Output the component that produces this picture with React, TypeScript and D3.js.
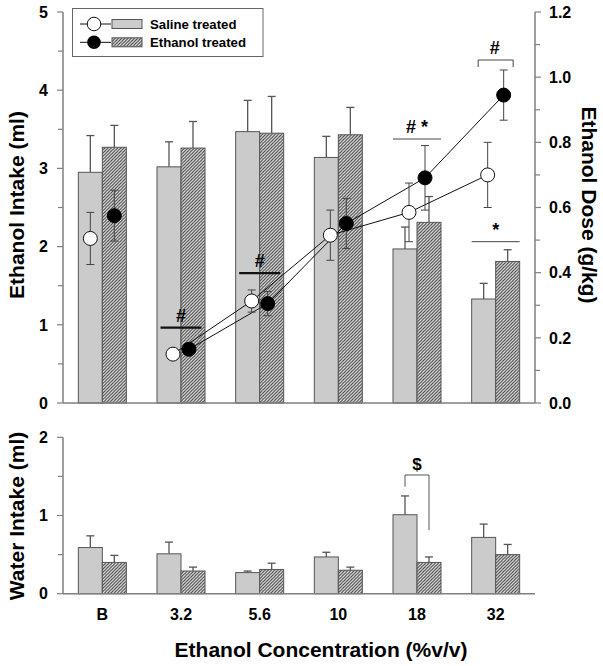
import React from "react";
import * as d3 from "d3";

const categories = ["B", "3.2", "5.6", "10", "18", "32"];

// Ethanol intake (ml) – bars
const salineIntake = [2.95, 3.02, 3.47, 3.14, 1.97, 1.33];
const salineIntakeErr = [0.47, 0.32, 0.40, 0.27, 0.28, 0.20];
const ethanolIntake = [3.27, 3.26, 3.45, 3.43, 2.31, 1.81];
const ethanolIntakeErr = [0.28, 0.34, 0.47, 0.35, 0.33, 0.15];

// Ethanol dose (g/kg) – points
const salineDose = [0.505, 0.150, 0.313, 0.515, 0.585, 0.700];
const salineDoseErr = [0.080, 0.010, 0.034, 0.077, 0.090, 0.100];
const ethanolDose = [0.575, 0.165, 0.305, 0.551, 0.691, 0.945];
const ethanolDoseErr = [0.078, 0.010, 0.037, 0.077, 0.099, 0.077];

// Water intake (ml)
const salineWater = [0.59, 0.51, 0.27, 0.47, 1.01, 0.72];
const salineWaterErr = [0.15, 0.15, 0.02, 0.06, 0.24, 0.17];
const ethanolWater = [0.40, 0.29, 0.31, 0.30, 0.40, 0.50];
const ethanolWaterErr = [0.09, 0.05, 0.08, 0.04, 0.07, 0.13];

const intakeTicks = [0, 1, 2, 3, 4, 5];
const doseTicks = [0, 0.2, 0.4, 0.6, 0.8, 1.0, 1.2];
const waterTicks = [0, 1, 2];

// significance marks (level in ml on the intake / water axis)
const topMarks = [
  { cat: "3.2", label: "#", level: 0.963, kind: "thick" },
  { cat: "5.6", label: "#", level: 1.66, kind: "thick" },
  { cat: "18", label: "# *", level: 3.376, kind: "thin" },
  { cat: "32", label: "#", level: 4.386, kind: "bracket" },
  { cat: "32", label: "*", level: 2.063, kind: "thin" },
];
const waterMark = { cat: "18", label: "$", level: 1.518, leftEnd: 1.37, rightEnd: 0.815 };

const FONT = "'Liberation Sans', Arial, Helvetica, sans-serif";
const AXIS = "#7f7f7f";
const BAR_STROKE = "#555";

export default function App() {
  const left = 63;
  const right = 535;
  const x = d3.scaleBand<string>().domain(categories).range([left, right]).paddingInner(0).paddingOuter(0);
  const bw = 24;
  const yI = d3.scaleLinear().domain([0, 5]).range([403, 12]);
  const yD = d3.scaleLinear().domain([0, 1.2]).range([403, 12]);
  const yW = d3.scaleLinear().domain([0, 2]).range([593.7, 437.3]);

  const cx = (c: string) => (x(c) as number) + x.bandwidth() / 2;
  const ptOff = (c: string) => (c === categories[0] ? bw / 2 : 8);

  const bars = (
    y: d3.ScaleLinear<number, number>,
    sv: number[],
    se: number[],
    ev: number[],
    ee: number[],
    key: string
  ) =>
    categories.map((c, i) => {
      const c0 = cx(c);
      const items: any[] = [];
      [
        { v: sv[i], e: se[i], x0: c0 - bw, fill: "#cbcbcb" },
        { v: ev[i], e: ee[i], x0: c0, fill: "url(#hatch)" },
      ].forEach((b, j) => {
        const bc = b.x0 + bw / 2;
        items.push(
          <line key={`${key}e${i}${j}`} x1={bc} x2={bc} y1={y(b.v)} y2={y(b.v + b.e)} stroke={BAR_STROKE} strokeWidth={1.3} />,
          <line key={`${key}c${i}${j}`} x1={bc - 4} x2={bc + 4} y1={y(b.v + b.e)} y2={y(b.v + b.e)} stroke={BAR_STROKE} strokeWidth={1.3} />,
          <rect key={`${key}r${i}${j}`} x={b.x0} y={y(b.v)} width={bw} height={y(0) - y(b.v)} fill={b.fill} stroke={BAR_STROKE} strokeWidth={1} />
        );
      });
      return <g key={`${key}g${i}`}>{items}</g>;
    });

  const salPts = categories.map((c, i) => ({ x: cx(c) - ptOff(c), v: salineDose[i], e: salineDoseErr[i] }));
  const ethPts = categories.map((c, i) => ({ x: cx(c) + ptOff(c), v: ethanolDose[i], e: ethanolDoseErr[i] }));
  const line = d3.line<{ x: number; v: number }>().x((d) => d.x).y((d) => yD(d.v));

  const errPt = (p: { x: number; v: number; e: number }, k: string) => (
    <g key={k} stroke="#444" strokeWidth={1}>
      <line x1={p.x} x2={p.x} y1={yD(p.v - p.e)} y2={yD(p.v + p.e)} />
      <line x1={p.x - 4} x2={p.x + 4} y1={yD(p.v + p.e)} y2={yD(p.v + p.e)} />
      <line x1={p.x - 4} x2={p.x + 4} y1={yD(p.v - p.e)} y2={yD(p.v - p.e)} />
    </g>
  );

  const leftAxis = (y: d3.ScaleLinear<number, number>, ticks: number[], minor: number[], k: string) => (
    <g key={k}>
      <line x1={left} x2={left} y1={y(0)} y2={y.range()[1]} stroke={AXIS} strokeWidth={1.5} />
      {minor.map((t) => (
        <line key={`m${t}`} x1={left - 5} x2={left} y1={y(t)} y2={y(t)} stroke={AXIS} strokeWidth={1.2} />
      ))}
      {ticks.map((t) => (
        <g key={`t${t}`}>
          <line x1={left - 6} x2={left} y1={y(t)} y2={y(t)} stroke={AXIS} strokeWidth={1.2} />
          <text x={48} y={y(t)} dy="0.36em" textAnchor="end" fontSize={16} fontWeight="bold">
            {t}
          </text>
        </g>
      ))}
    </g>
  );

  const intakeMinor = d3.range(0.5, 5, 1);
  const doseMinor = d3.range(0.1, 1.2, 0.2);
  const waterMinor = [0.5, 1.5];

  return (
    <svg
      width={603}
      height={666}
      style={{ position: "absolute", left: 0, top: 0, background: "#fff" }}
      fontFamily={FONT}
    >
      <defs>
        <pattern id="hatch" patternUnits="userSpaceOnUse" width={3.2} height={3.2}>
          <rect width={3.2} height={3.2} fill="#ececec" />
          <path d="M-1,1 L1,-1 M0,3.2 L3.2,0 M2.2,4.2 L4.2,2.2" stroke="#3a3a3a" strokeWidth={1} />
        </pattern>
      </defs>
      <rect width={603} height={666} fill="#fff" />

      {/* ===== Top panel ===== */}
      {bars(yI, salineIntake, salineIntakeErr, ethanolIntake, ethanolIntakeErr, "top")}

      {/* baseline + axes */}
      <line x1={left} x2={right} y1={yI(0)} y2={yI(0)} stroke={AXIS} strokeWidth={1.5} />
      {leftAxis(yI, intakeTicks, intakeMinor, "la")}
      <g>
        <line x1={right} x2={right} y1={yD(0)} y2={yD(1.2)} stroke={AXIS} strokeWidth={1.5} />
        {doseMinor.map((t) => (
          <line key={`dm${t}`} x1={right} x2={right + 5} y1={yD(t)} y2={yD(t)} stroke={AXIS} strokeWidth={1.2} />
        ))}
        {doseTicks.map((t) => (
          <g key={`dt${t}`}>
            <line x1={right} x2={right + 6} y1={yD(t)} y2={yD(t)} stroke={AXIS} strokeWidth={1.2} />
            <text x={549} y={yD(t)} dy="0.36em" textAnchor="start" fontSize={16} fontWeight="bold">
              {t.toFixed(1)}
            </text>
          </g>
        ))}
      </g>

      {/* dose lines & points */}
      <path d={line(salPts.slice(1)) as string} fill="none" stroke="#111" strokeWidth={1} />
      <path d={line(ethPts.slice(1)) as string} fill="none" stroke="#111" strokeWidth={1} />
      {salPts.map((p, i) => errPt(p, `se${i}`))}
      {ethPts.map((p, i) => errPt(p, `ee${i}`))}
      {salPts.map((p, i) => (
        <circle key={`sp${i}`} cx={p.x} cy={yD(p.v)} r={7} fill="#fff" stroke="#111" strokeWidth={1} />
      ))}
      {ethPts.map((p, i) => (
        <circle key={`ep${i}`} cx={p.x} cy={yD(p.v)} r={7} fill="#000" stroke="#000" strokeWidth={1} />
      ))}

      {/* significance marks */}
      {topMarks.map((m, i) => {
        const c = cx(m.cat);
        const yy = yI(m.level);
        if (m.kind === "bracket") {
          const x1 = c - 17.5;
          const x2 = c + 17.5;
          return (
            <g key={`tm${i}`}>
              <path d={`M${x1},${yy + 7}V${yy}H${x2}V${yy + 7}`} fill="none" stroke="#444" strokeWidth={1} />
              <text x={c - 1} y={yy - 6} textAnchor="middle" fontSize={18} fontWeight="bold">
                {m.label}
              </text>
            </g>
          );
        }
        const half = m.kind === "thick" ? 20.5 : 24;
        return (
          <g key={`tm${i}`}>
            <line x1={c - half} x2={c + half} y1={yy} y2={yy} stroke={m.kind === "thick" ? "#111" : "#444"} strokeWidth={m.kind === "thick" ? 2.2 : 1} />
            <text x={c} y={yy - 6} textAnchor="middle" fontSize={18} fontWeight="bold" xmlSpace="preserve">
              {m.label}
            </text>
          </g>
        );
      })}

      {/* legend */}
      <g>
        <rect x={72.5} y={8.5} width={190.5} height={48} fill="#fff" stroke="#666" strokeWidth={1} />
        <line x1={80} x2={111} y1={24} y2={24} stroke="#111" />
        <circle cx={94} cy={24} r={6.8} fill="#fff" stroke="#111" />
        <rect x={112} y={19.5} width={30} height={9} fill="#cbcbcb" stroke={BAR_STROKE} />
        <text x={150} y={28.8} fontSize={13.2} fontWeight="bold">Saline treated</text>
        <line x1={80} x2={111} y1={42.3} y2={42.3} stroke="#111" />
        <circle cx={94} cy={42.3} r={6.8} fill="#000" />
        <rect x={112} y={37.8} width={30} height={9} fill="url(#hatch)" stroke={BAR_STROKE} />
        <text x={150} y={47.1} fontSize={13.2} fontWeight="bold">Ethanol treated</text>
      </g>

      {/* axis titles top */}
      <text transform="translate(24,205) rotate(-90)" textAnchor="middle" fontSize={21} fontWeight="bold">
        Ethanol Intake (ml)
      </text>
      <text transform="translate(582,205) rotate(90)" textAnchor="middle" fontSize={21} fontWeight="bold">
        Ethanol Dose (g/kg)
      </text>

      {/* ===== Bottom panel ===== */}
      {bars(yW, salineWater, salineWaterErr, ethanolWater, ethanolWaterErr, "bot")}
      <line x1={left} x2={right} y1={yW(0)} y2={yW(0)} stroke={AXIS} strokeWidth={1.5} />
      {leftAxis(yW, waterTicks, waterMinor, "lw")}
      {(() => {
        const c = cx(waterMark.cat);
        const x1 = c - bw / 2;
        const x2 = c + bw / 2;
        return (
          <g>
            <path
              d={`M${x1},${yW(waterMark.leftEnd)}V${yW(waterMark.level)}H${x2}V${yW(waterMark.rightEnd)}`}
              fill="none"
              stroke="#555"
              strokeWidth={1}
            />
            <text x={c} y={yW(waterMark.level) - 5} textAnchor="middle" fontSize={17} fontWeight="bold">
              {waterMark.label}
            </text>
          </g>
        );
      })()}
      {categories.map((c) => (
        <text key={`xl${c}`} x={cx(c)} y={619.5} textAnchor="middle" fontSize={16} fontWeight="bold">
          {c}
        </text>
      ))}
      <text transform="translate(24,516) rotate(-90)" textAnchor="middle" fontSize={21} fontWeight="bold">
        Water Intake (ml)
      </text>
      <text x={321} y={657} textAnchor="middle" fontSize={21} fontWeight="bold">
        Ethanol Concentration (%v/v)
      </text>
    </svg>
  );
}
